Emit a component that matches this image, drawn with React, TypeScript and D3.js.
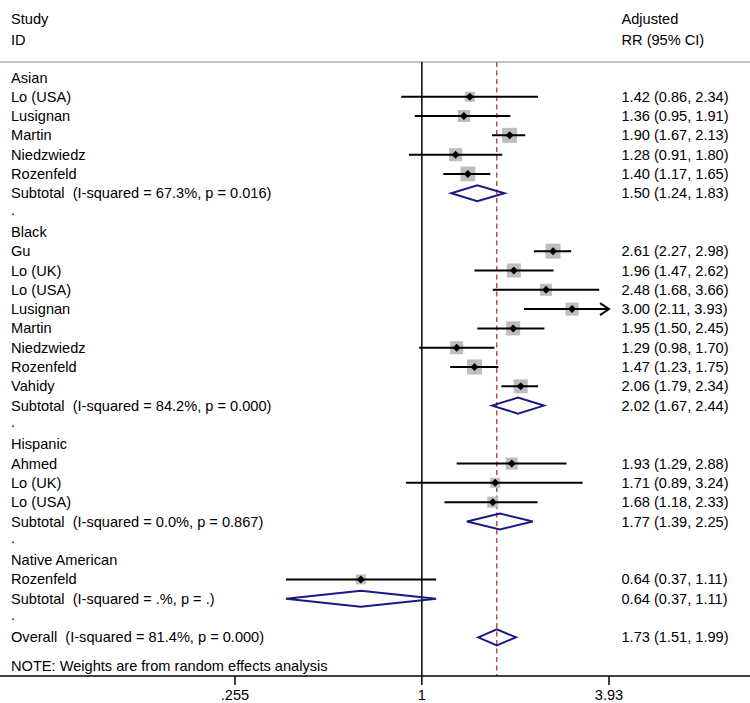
import React from "react";
import * as d3 from "d3";

const groupNames = ["Asian", "Black", "Hispanic", "Native American"];
const studyGroup = [0, 0, 0, 0, 0, 1, 1, 1, 1, 1, 1, 1, 1, 2, 2, 2, 3];
const studyNames = [
  "Lo (USA)", "Lusignan", "Martin", "Niedzwiedz", "Rozenfeld",
  "Gu", "Lo (UK)", "Lo (USA)", "Lusignan", "Martin", "Niedzwiedz", "Rozenfeld", "Vahidy",
  "Ahmed", "Lo (UK)", "Lo (USA)",
  "Rozenfeld",
];
const studyRR = [1.42, 1.36, 1.9, 1.28, 1.4, 2.61, 1.96, 2.48, 3.0, 1.95, 1.29, 1.47, 2.06, 1.93, 1.71, 1.68, 0.64];
const studyLower = [0.86, 0.95, 1.67, 0.91, 1.17, 2.27, 1.47, 1.68, 2.11, 1.5, 0.98, 1.23, 1.79, 1.29, 0.89, 1.18, 0.37];
const studyUpper = [2.34, 1.91, 2.13, 1.8, 1.65, 2.98, 2.62, 3.66, 3.93, 2.45, 1.7, 1.75, 2.34, 2.88, 3.24, 2.33, 1.11];
const studyWeight = [3.1, 4.5, 7.0, 5.3, 6.8, 7.0, 6.1, 4.5, 5.3, 6.1, 5.3, 7.0, 6.1, 4.5, 3.1, 3.8, 3.1];

const subRR = [1.5, 2.02, 1.77, 0.64];
const subLower = [1.24, 1.67, 1.39, 0.37];
const subUpper = [1.83, 2.44, 2.25, 1.11];
const subI2 = ["67.3%", "84.2%", "0.0%", ".%"];
const subP = ["0.016", "0.000", "0.867", "."];

const overallRR = 1.73;
const overallLower = 1.51;
const overallUpper = 1.99;
const overallI2 = "81.4%";
const overallP = "0.000";

const tickValues = [0.255, 1, 3.93];
const tickLabels = [".255", "1", "3.93"];

const W = 750;
const H = 703;
const FONT = "'Liberation Sans', Arial, sans-serif";
const FS = 14.6;
const NAVY = "#1a1a85";

function fmt(v: number) {
  return v.toFixed(2);
}

type Row =
  | { kind: "group"; label: string }
  | { kind: "study"; i: number }
  | { kind: "sub"; g: number }
  | { kind: "dot" }
  | { kind: "overall" };

export default function App() {
  const rows: Row[] = [];
  groupNames.forEach((name, g) => {
    if (g > 0) rows.push({ kind: "dot" });
    rows.push({ kind: "group", label: name });
    studyNames.forEach((_, i) => {
      if (studyGroup[i] === g) rows.push({ kind: "study", i });
    });
    rows.push({ kind: "sub", g });
  });
  rows.push({ kind: "dot" });
  rows.push({ kind: "overall" });

  const x = d3.scaleLog().domain([0.255, 3.93]).range([235, 609]);
  const y = d3.scaleLinear().domain([0, rows.length - 1]).range([77.4, 637.3]);
  const boxSize = d3.scaleSqrt().domain([0, 7]).range([0, 15]);

  const axisY = 676;
  const topY = 62;
  const leftX = 11;
  const rightX = 621.5;
  const xMax = 3.93;
  const xMin = 0.255;

  const diamond = (cx: number, lo: number, hi: number, cy: number, h: number) =>
    `M${x(lo)},${cy} L${x(cx)},${cy - h} L${x(hi)},${cy} L${x(cx)},${cy + h} Z`;

  const textProps = { fontFamily: FONT, fontSize: FS, fill: "#000", dy: "0.35em" };

  return (
    <svg width={W} height={H} style={{ position: "absolute", left: 0, top: 0, background: "#fff" }}>
      <rect x={0} y={0} width={W} height={H} fill="#fff" />
      {/* headers */}
      <text x={leftX} y={19} {...textProps}>Study</text>
      <text x={leftX} y={40} {...textProps}>ID</text>
      <text x={rightX} y={19} {...textProps}>Adjusted</text>
      <text x={rightX} y={40} {...textProps}>RR (95% CI)</text>
      <line x1={0} x2={W} y1={topY} y2={topY} stroke="#c4c4c4" strokeWidth={2} />

      {/* reference lines */}
      <line x1={x(1)} x2={x(1)} y1={topY} y2={axisY} stroke="#000" strokeWidth={1.5} />
      <line
        x1={x(overallRR)}
        x2={x(overallRR)}
        y1={topY}
        y2={axisY}
        stroke="#a23a3a"
        strokeWidth={1.3}
        strokeDasharray="5,3.5"
      />

      {rows.map((r, k) => {
        const cy = y(k);
        if (r.kind === "group") {
          return <text key={k} x={leftX} y={cy} {...textProps}>{r.label}</text>;
        }
        if (r.kind === "dot") {
          return <text key={k} x={leftX} y={cy - 3} {...textProps}>.</text>;
        }
        if (r.kind === "study") {
          const i = r.i;
          const s = boxSize(studyWeight[i]);
          const lo = Math.max(studyLower[i], xMin);
          const hi = Math.min(studyUpper[i], xMax);
          const arrow = studyUpper[i] >= xMax;
          const px = x(studyRR[i]);
          return (
            <g key={k}>
              <text x={leftX} y={cy} {...textProps}>{studyNames[i]}</text>
              <rect x={px - s / 2} y={cy - s / 2} width={s} height={s} fill="#bdbdbd" />
              <line x1={x(lo)} x2={x(hi)} y1={cy} y2={cy} stroke="#000" strokeWidth={2} />
              {arrow && (
                <polyline
                  points={`${x(hi) - 9},${cy - 6} ${x(hi)},${cy} ${x(hi) - 9},${cy + 6}`}
                  fill="none"
                  stroke="#000"
                  strokeWidth={2}
                />
              )}
              <path d={`M${px - 4},${cy} L${px},${cy - 4} L${px + 4},${cy} L${px},${cy + 4} Z`} fill="#000" />
              <text x={rightX} y={cy} {...textProps}>
                {`${fmt(studyRR[i])} (${fmt(studyLower[i])}, ${fmt(studyUpper[i])})`}
              </text>
            </g>
          );
        }
        if (r.kind === "sub") {
          const g = r.g;
          return (
            <g key={k}>
              <text x={leftX} y={cy} {...textProps} style={{ whiteSpace: "pre" }}>
                {`Subtotal  (I-squared = ${subI2[g]}, p = ${subP[g]})`}
              </text>
              <path d={diamond(subRR[g], subLower[g], subUpper[g], cy, 8)} fill="none" stroke={NAVY} strokeWidth={2} />
              <text x={rightX} y={cy} {...textProps}>
                {`${fmt(subRR[g])} (${fmt(subLower[g])}, ${fmt(subUpper[g])})`}
              </text>
            </g>
          );
        }
        return (
          <g key={k}>
            <text x={leftX} y={cy} {...textProps} style={{ whiteSpace: "pre" }}>
              {`Overall  (I-squared = ${overallI2}, p = ${overallP})`}
            </text>
            <path d={diamond(overallRR, overallLower, overallUpper, cy, 8)} fill="none" stroke={NAVY} strokeWidth={2} />
            <text x={rightX} y={cy} {...textProps}>
              {`${fmt(overallRR)} (${fmt(overallLower)}, ${fmt(overallUpper)})`}
            </text>
          </g>
        );
      })}

      <text x={leftX} y={y(rows.length - 1) + 29} {...textProps}>
        NOTE: Weights are from random effects analysis
      </text>

      {/* axis */}
      <line x1={0} x2={W} y1={axisY} y2={axisY} stroke="#000" strokeWidth={1.5} />
      {tickValues.map((t, i) => (
        <g key={t}>
          <line x1={x(t)} x2={x(t)} y1={axisY} y2={axisY + 9} stroke="#000" strokeWidth={1.5} />
          <text x={x(t)} y={axisY + 19} textAnchor="middle" {...textProps}>
            {tickLabels[i]}
          </text>
        </g>
      ))}
    </svg>
  );
}
